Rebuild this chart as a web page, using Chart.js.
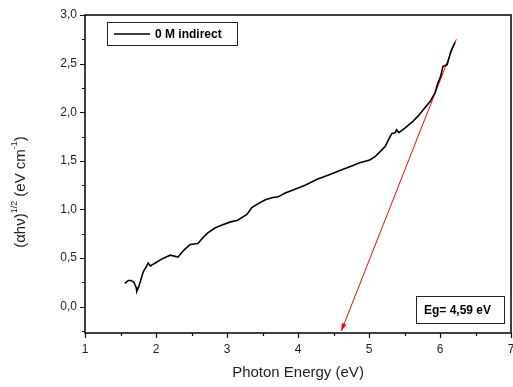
<!DOCTYPE html>
<html>
<head>
<meta charset="utf-8">
<script src="https://cdn.jsdelivr.net/npm/chart.js@4.4.0/dist/chart.umd.min.js"></script>
<style>
	html, body { margin: 0; padding: 0; background: #fff; }
	#wrap { width: 513px; height: 387px; }
</style>
</head>
<body>
<div id="wrap"><canvas id="graficoTauc" width="513" height="387"></canvas></div>
<script>
// photon energy (eV) and (ahv)^1/2
var energia = [1.56, 1.61, 1.65, 1.69, 1.72, 1.73, 1.76, 1.82, 1.87, 1.89, 1.92, 1.99, 2.08, 2.20, 2.31, 2.39,
	2.48, 2.59, 2.66, 2.73, 2.83, 2.93, 3.04, 3.15, 3.28, 3.35, 3.44, 3.54, 3.63, 3.72, 3.82, 3.93,
	4.10, 4.27, 4.45, 4.59, 4.73, 4.87, 5.01, 5.08, 5.15, 5.23, 5.27, 5.32, 5.37, 5.39, 5.42, 5.51,
	5.61, 5.69, 5.77, 5.86, 5.93, 5.97, 6.01, 6.04, 6.10, 6.15, 6.21];
var tauc = [0.24, 0.27, 0.27, 0.25, 0.20, 0.16, 0.21, 0.36, 0.42, 0.45, 0.42, 0.45, 0.49, 0.53, 0.51, 0.58,
	0.64, 0.65, 0.71, 0.76, 0.81, 0.84, 0.87, 0.89, 0.95, 1.02, 1.06, 1.10, 1.12, 1.13, 1.17, 1.20,
	1.25, 1.31, 1.36, 1.40, 1.44, 1.48, 1.51, 1.54, 1.59, 1.65, 1.71, 1.78, 1.79, 1.82, 1.79, 1.84,
	1.90, 1.96, 2.03, 2.11, 2.20, 2.30, 2.37, 2.47, 2.49, 2.62, 2.72];

// tangent line (arrow ends at the Eg value)
var retaX = [6.23, 4.61];
var retaY = [2.75, -0.25];

var legendaSerie = '0 M indirect';
var textoEg = 'Eg= 4,59 eV';
var tituloX = 'Photon Energy (eV)';

var xMin = 1, xMax = 7, xPasso = 1, xMenor = 0.5;
var yMin = -0.27, yMax = 3.0, yPasso = 0.5, yMenor = 0.25;

var corTexto = '#1e1e2a';
var fonte = '"Liberation Sans", Arial, sans-serif';

function pontos(xs, ys) {
	var arr = [];
	xs.forEach(function(x, i) { arr.push({ x: x, y: ys[i] }); });
	return arr;
}

var extras = {
	id: 'extras',
	afterDraw: function(chart) {
		var ctx = chart.ctx;
		var a = chart.chartArea;
		var sx = chart.scales.x, sy = chart.scales.y;
		ctx.save();

		// frame
		ctx.strokeStyle = '#111';
		ctx.lineWidth = 1.6;
		ctx.strokeRect(a.left, a.top, a.right - a.left, a.bottom - a.top);

		// ticks, outward, major and minor
		ctx.lineWidth = 1.2;
		ctx.beginPath();
		for (var v = xMin; v <= xMax + 1e-9; v += xMenor) {
			var px = Math.round(sx.getPixelForValue(v)) + 0.5;
			var major = Math.abs(v / xPasso - Math.round(v / xPasso)) < 1e-6;
			ctx.moveTo(px, a.bottom);
			ctx.lineTo(px, a.bottom + (major ? 5 : 3));
		}
		var yInicio = Math.ceil(yMin / yMenor) * yMenor;
		for (var w = yInicio; w <= yMax + 1e-9; w += yMenor) {
			var py = Math.round(sy.getPixelForValue(w)) + 0.5;
			var majorY = Math.abs(w / yPasso - Math.round(w / yPasso)) < 1e-6;
			ctx.moveTo(a.left, py);
			ctx.lineTo(a.left - (majorY ? 5 : 3), py);
		}
		ctx.stroke();

		// arrow head at the end of the tangent
		var meta = chart.getDatasetMeta(1);
		var p0 = meta.data[0], p1 = meta.data[1];
		var ang = Math.atan2(p1.y - p0.y, p1.x - p0.x);
		ctx.fillStyle = '#ff0000';
		ctx.beginPath();
		ctx.moveTo(p1.x, p1.y);
		ctx.lineTo(p1.x - 8 * Math.cos(ang - 0.3), p1.y - 8 * Math.sin(ang - 0.3));
		ctx.lineTo(p1.x - 8 * Math.cos(ang + 0.3), p1.y - 8 * Math.sin(ang + 0.3));
		ctx.closePath();
		ctx.fill();

		// legend box
		ctx.strokeStyle = '#222';
		ctx.lineWidth = 1;
		ctx.strokeRect(a.left + 22.5, a.top + 7.5, 130, 23);
		ctx.strokeStyle = '#000';
		ctx.lineWidth = 1.6;
		ctx.beginPath();
		ctx.moveTo(a.left + 29, a.top + 19);
		ctx.lineTo(a.left + 65, a.top + 19);
		ctx.stroke();
		ctx.fillStyle = '#000';
		ctx.font = 'bold 12px ' + fonte;
		ctx.textBaseline = 'middle';
		ctx.textAlign = 'left';
		ctx.fillText(legendaSerie, a.left + 70, a.top + 19.5);

		// Eg box
		ctx.strokeStyle = '#222';
		ctx.lineWidth = 1;
		ctx.strokeRect(a.right - 94.5, a.bottom - 36.5, 88, 27);
		ctx.fillText(textoEg, a.right - 87, a.bottom - 22.5);

		// x title
		ctx.fillStyle = corTexto;
		ctx.font = '15px ' + fonte;
		ctx.textAlign = 'center';
		ctx.fillText(tituloX, (a.left + a.right) / 2, 373);

		// y title with superscripts
		ctx.translate(21, 192);
		ctx.rotate(-Math.PI / 2);
		var partes = [['(\u03b1h\u03bd)', false], ['1/2', true], [' (eV cm', false], ['-1', true], [')', false]];
		var total = 0;
		partes.forEach(function(p) {
			ctx.font = (p[1] ? '9px ' : '15px ') + fonte;
			total += ctx.measureText(p[0]).width;
		});
		var cx = -total / 2;
		ctx.textAlign = 'left';
		partes.forEach(function(p) {
			ctx.font = (p[1] ? '9px ' : '15px ') + fonte;
			ctx.fillText(p[0], cx, p[1] ? -6 : 0);
			cx += ctx.measureText(p[0]).width;
		});
		ctx.restore();
	}
};

var grafico = new Chart(document.getElementById('graficoTauc').getContext('2d'), {
	type: 'scatter',
	data: {
		datasets: [{
			label: legendaSerie,
			data: pontos(energia, tauc),
			showLine: true,
			borderColor: '#000',
			borderWidth: 1.6,
			pointRadius: 0,
			tension: 0
		}, {
			label: 'reta',
			data: pontos(retaX, retaY),
			showLine: true,
			borderColor: '#ff0000',
			borderWidth: 1,
			pointRadius: 0
		}]
	},
	options: {
		responsive: false,
		animation: false,
		layout: { padding: { top: 15, right: 2, left: 0, bottom: 0 } },
		plugins: { legend: { display: false }, tooltip: { enabled: false } },
		scales: {
			x: {
				type: 'linear',
				min: xMin, max: xMax,
				grid: { display: false, drawTicks: false },
				border: { display: false },
				ticks: {
					stepSize: xPasso,
					padding: 9,
					color: corTexto,
					font: { family: fonte, size: 12 },
					maxRotation: 0,
					callback: function(v) { return String(v); }
				},
				afterFit: function(scale) {
					scale.height = 54;
					scale.paddingLeft = 0;
					scale.paddingRight = 0;
				}
			},
			y: {
				type: 'linear',
				min: yMin, max: yMax,
				grid: { display: false, drawTicks: false },
				border: { display: false },
				ticks: {
					stepSize: yPasso,
					includeBounds: false,
					padding: 8,
					color: corTexto,
					font: { family: fonte, size: 12 },
					callback: function(v) { return v.toFixed(1).replace('.', ','); }
				},
				afterFit: function(scale) {
					scale.width = 85;
					scale.paddingTop = 0;
					scale.paddingBottom = 0;
				}
			}
		}
	},
	plugins: [extras]
});
</script>
</body>
</html>
